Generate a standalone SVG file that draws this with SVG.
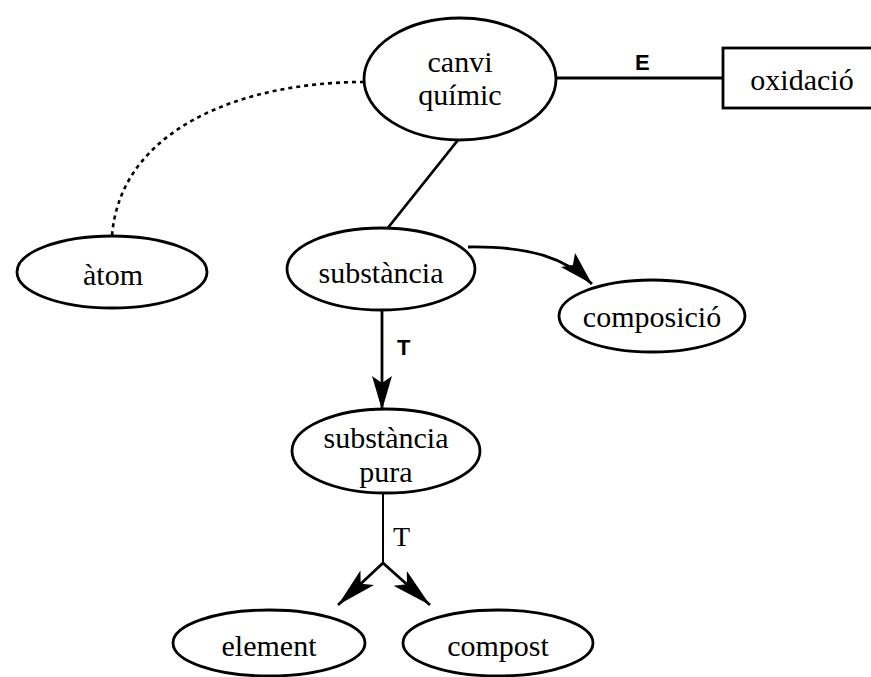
<svg xmlns="http://www.w3.org/2000/svg" width="871" height="677" viewBox="0 0 871 677">
<defs>
<style>
.node ellipse, .node rect { fill: #fff; stroke: #000; stroke-width: 2.8; }
.lbl { font-family: "Liberation Serif", "Times New Roman", serif; font-size: 30px; fill: #000; text-anchor: middle; }
.elbl { font-family: "Liberation Sans", Arial, sans-serif; font-weight: bold; font-size: 22px; fill: #000; }
.tlbl { font-family: "Liberation Serif", "Times New Roman", serif; font-size: 28px; fill: #000; }
.conn { fill: none; stroke: #000; stroke-width: 2.8; }
.thin { fill: none; stroke: #000; stroke-width: 2; }
.dot { fill: none; stroke: #000; stroke-width: 2.6; stroke-dasharray: 4 4; }
</style>
<marker id="ah" markerUnits="userSpaceOnUse" markerWidth="40" markerHeight="26" refX="34" refY="11" orient="auto">
<path d="M0,1 L34,11 L0,21 L7,11 Z" fill="#000"/>
</marker>
<marker id="ahl" markerUnits="userSpaceOnUse" markerWidth="46" markerHeight="26" refX="40" refY="11" orient="auto">
<path d="M0,1 L40,11 L0,21 L9,11 Z" fill="#000"/>
</marker>
</defs>
<rect width="871" height="677" fill="#fff"/>
<g id="connectors">
<path class="dot" d="M364,82 C240,82 120,130 112,236"/>
<line class="conn" x1="556" y1="78" x2="723" y2="78"/>
<line class="conn" x1="458" y1="140" x2="387" y2="229"/>
<path class="conn" d="M468,247 C530,246 566,258 592,284" marker-end="url(#ah)"/>
<line class="conn" x1="382" y1="310" x2="382" y2="410" marker-end="url(#ah)"/>
<line class="thin" x1="383" y1="493" x2="383" y2="563"/>
<line class="conn" x1="383" y1="563" x2="338" y2="605" marker-end="url(#ahl)"/>
<line class="conn" x1="383" y1="563" x2="430" y2="605" marker-end="url(#ahl)"/>
<text class="elbl" x="635" y="70">E</text>
<text class="elbl" x="397" y="355" font-size="26">T</text>
<text class="tlbl" x="393" y="546">T</text>
</g>
<g id="canvi" class="node">
<ellipse cx="460" cy="79" rx="96" ry="61"/>
<text class="lbl" x="460" y="72">canvi</text>
<text class="lbl" x="460" y="105">químic</text>
</g>
<g id="oxidacio" class="node">
<rect x="723" y="48" width="160" height="60"/>
<text class="lbl" x="802" y="90">oxidació</text>
</g>
<g id="atom" class="node">
<ellipse cx="112" cy="272" rx="95" ry="36"/>
<text class="lbl" x="113" y="285">àtom</text>
</g>
<g id="substancia" class="node">
<ellipse cx="381" cy="269" rx="94" ry="41"/>
<text class="lbl" x="381" y="283">substància</text>
</g>
<g id="composicio" class="node">
<ellipse cx="652" cy="316" rx="93" ry="36"/>
<text class="lbl" x="652" y="327">composició</text>
</g>
<g id="substancia-pura" class="node">
<ellipse cx="386" cy="451" rx="94" ry="42"/>
<text class="lbl" x="386" y="448">substància</text>
<text class="lbl" x="386" y="482">pura</text>
</g>
<g id="element" class="node">
<ellipse cx="269" cy="643" rx="96" ry="33"/>
<text class="lbl" x="269" y="656">element</text>
</g>
<g id="compost" class="node">
<ellipse cx="498" cy="643" rx="95" ry="33"/>
<text class="lbl" x="498" y="656">compost</text>
</g>
</svg>
